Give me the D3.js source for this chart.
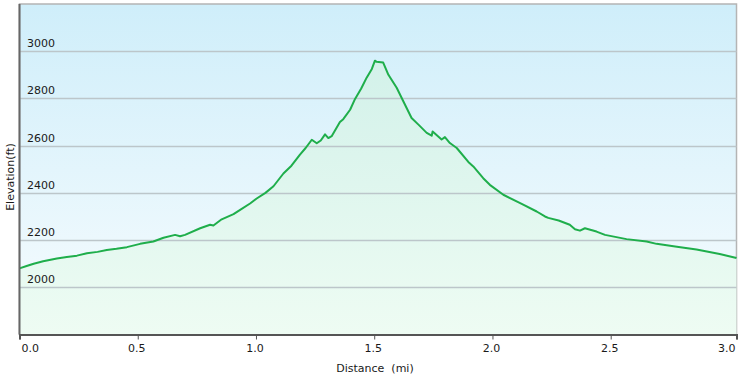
<!doctype html>
<html>
<head>
<script src="https://d3js.org/d3.v7.min.js"></script>
<style>
body { margin: 0; background: #fff; }
text { font-family: "DejaVu Sans", Verdana, sans-serif; font-size: 11px; fill: #1a1a1a; }
</style>
</head>
<body>
<svg width="742" height="382"></svg>
<script>
// distance along the trail (mi)
var distances = [0, 0.03, 0.06, 0.10, 0.158, 0.20, 0.243, 0.285, 0.33, 0.369,
  0.41, 0.454, 0.51, 0.566, 0.609, 0.658, 0.679, 0.70, 0.764, 0.806,
  0.82, 0.855, 0.905, 0.933, 0.975, 1.003, 1.04, 1.074, 1.116, 1.15,
  1.186, 1.21, 1.236, 1.257, 1.274, 1.292, 1.306, 1.32, 1.355, 1.369,
  1.398, 1.419, 1.445, 1.468, 1.49, 1.503, 1.51, 1.538, 1.56, 1.595,
  1.623, 1.658, 1.686, 1.722, 1.743, 1.747, 1.785, 1.799, 1.82, 1.849,
  1.898, 1.919, 1.961, 1.989, 2.046, 2.13, 2.187, 2.222, 2.236, 2.28,
  2.327, 2.349, 2.37, 2.391, 2.44, 2.476, 2.567, 2.652, 2.694, 2.78,
  2.863, 2.961, 3.032];
// elevation (ft)
var elevations = [2080, 2090, 2100, 2110, 2122, 2128, 2134, 2144, 2150, 2158,
  2163, 2170, 2184, 2194, 2210, 2222, 2216, 2222, 2250, 2265,
  2262, 2288, 2310, 2328, 2355, 2376, 2400, 2428, 2482, 2515,
  2562, 2590, 2625, 2610, 2622, 2648, 2632, 2640, 2700, 2712,
  2752, 2798, 2842, 2888, 2925, 2960, 2955, 2952, 2900, 2845,
  2788, 2717, 2690, 2654, 2642, 2660, 2626, 2636, 2611, 2590,
  2531, 2512, 2462, 2434, 2392, 2350, 2321, 2300, 2294, 2283,
  2265, 2246, 2240, 2250, 2236, 2222, 2204, 2194, 2184, 2172,
  2160, 2141, 2124];
// last tick sits at the end of the track and is printed as 3.0
var xTicks = [0, 0.5, 1.0, 1.5, 2.0, 2.5, 3.032];
var yTicks = [2000, 2200, 2400, 2600, 2800, 3000];

var data = distances.map(function (d, i) { return { d: d, e: elevations[i] }; });

var svg = d3.select("svg"),
    pLeft = 19.5, pRight = 736.5, pTop = 4, pBottom = 334.5;

var x = d3.scaleLinear().domain([0, 3.032]).range([pLeft, pRight]),
    y = d3.scaleLinear().domain([1800, 3200]).range([pBottom, pTop]);

var defs = svg.append("defs");
var bg = defs.append("linearGradient").attr("id", "bg")
    .attr("x1", 0).attr("y1", 0).attr("x2", 0).attr("y2", 1);
bg.append("stop").attr("offset", "0%").attr("stop-color", "#cfeefa");
bg.append("stop").attr("offset", "100%").attr("stop-color", "#f7fcfe");
var ar = defs.append("linearGradient").attr("id", "ar")
    .attr("gradientUnits", "userSpaceOnUse")
    .attr("x1", 0).attr("y1", pTop).attr("x2", 0).attr("y2", pBottom);
ar.append("stop").attr("offset", "0%").attr("stop-color", "#cdefe8");
ar.append("stop").attr("offset", "100%").attr("stop-color", "#eefcf3");

// plot background
svg.append("rect")
  .attr("x", pLeft).attr("y", pTop)
  .attr("width", pRight - pLeft).attr("height", pBottom - pTop)
  .attr("fill", "url(#bg)")
  .attr("stroke", "#b4b4b4").attr("stroke-width", 1.5);

// area
svg.append("path").datum(data)
  .attr("fill", "url(#ar)")
  .attr("d", d3.area().x(function (d) { return x(d.d); })
    .y0(pBottom).y1(function (d) { return y(d.e); }));

// grid lines
svg.append("g").selectAll("line").data(yTicks).enter().append("line")
  .attr("x1", pLeft).attr("x2", pRight)
  .attr("y1", function (d) { return Math.round(y(d)) + 0.5; })
  .attr("y2", function (d) { return Math.round(y(d)) + 0.5; })
  .attr("stroke", "#bcc6ca").attr("stroke-width", 1.3);

// y labels inside the plot
svg.append("g").selectAll("text").data(yTicks).enter().append("text")
  .attr("x", 27)
  .attr("y", function (d) { return y(d) - 4; })
  .text(function (d) { return d; });

// elevation line
svg.append("path").datum(data)
  .attr("fill", "none")
  .attr("stroke", "#1fae4b").attr("stroke-width", 2)
  .attr("stroke-linejoin", "round")
  .attr("d", d3.line().x(function (d) { return x(d.d); }).y(function (d) { return y(d.e); }));

// left axis line
svg.append("line")
  .attr("x1", pLeft).attr("x2", pLeft).attr("y1", pTop).attr("y2", pBottom)
  .attr("stroke", "#666").attr("stroke-width", 2);

// x axis
var xa = svg.append("g")
  .attr("transform", "translate(0," + pBottom + ")")
  .call(d3.axisBottom(x).tickValues(xTicks).tickFormat(d3.format(".1f"))
    .tickSize(5).tickSizeOuter(5).tickPadding(5));
xa.select(".domain").attr("stroke", "#555").attr("stroke-width", 2);
xa.selectAll(".tick line").attr("stroke", "#555");
xa.selectAll(".tick text").attr("fill", "#1a1a1a").attr("dx", -1.5)
  .style("font-size", "11px");
xa.selectAll(".tick text").filter(function (d) { return d === xTicks[0]; })
  .attr("text-anchor", "start").attr("dx", 1.5);
xa.selectAll(".tick text").filter(function (d) { return d === xTicks[xTicks.length - 1]; })
  .attr("text-anchor", "end").attr("dx", -1.5);

svg.append("text")
  .attr("x", 375).attr("y", 372)
  .attr("text-anchor", "middle")
  .attr("xml:space", "preserve")
  .text("Distance  (mi)");

svg.append("text")
  .attr("text-anchor", "middle")
  .attr("transform", "translate(14,177)rotate(-90)")
  .text("Elevation(ft)");
</script>
</body>
</html>
